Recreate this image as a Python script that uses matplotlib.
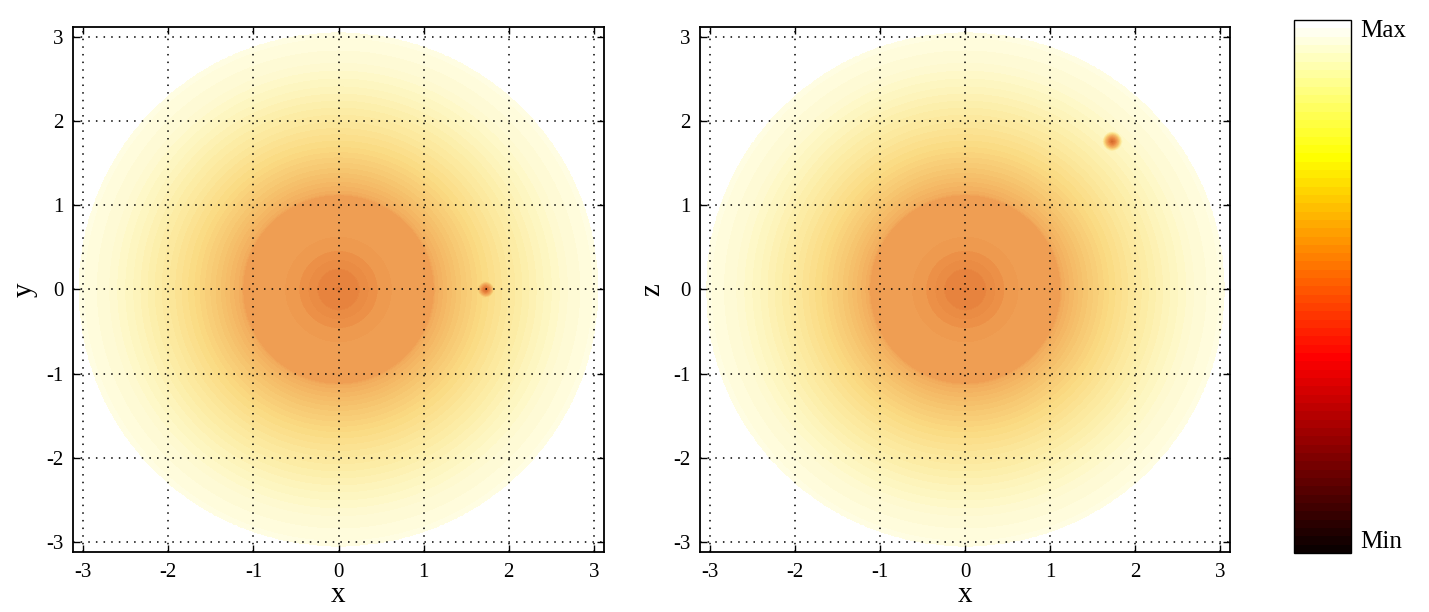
import numpy as np
import matplotlib.pyplot as plt
from matplotlib.colors import LinearSegmentedColormap
import matplotlib.cm as cm

plt.rcParams['font.family'] = ['Liberation Serif', 'DejaVu Serif']
plt.rcParams['axes.unicode_minus'] = False

# radial profile of the field (0 = darkest, 1 = brightest)
radios = [0.0, 0.25, 0.26, 0.46, 0.47, 1.12, 1.15, 1.4, 1.7, 2.0, 2.4, 2.7, 3.05]
nivel = [0.12, 0.15, 0.19, 0.21, 0.27, 0.29, 0.36, 0.48, 0.60, 0.70, 0.82, 0.90, 0.96]
radio_disco = 3.05

# small dark spot (distance from spot centre -> level)
dist_mancha = [0.0, 0.04, 0.08, 0.14]
nivel_mancha = [0.0, 0.12, 0.40, 1.0]
mancha_izq = (1.73, 0.0)
mancha_der = (1.73, 1.76)

ticks = [-3, -2, -1, 0, 1, 2, 3]
lim = 3.12

# colours of the washed disk
colores = [(205, 98, 38), (230, 128, 60), (236, 145, 72), (240, 165, 88),
           (245, 190, 105), (250, 218, 130), (252, 238, 168), (254, 249, 205),
           (255, 254, 235)]
posiciones = [0.0, 0.12, 0.22, 0.32, 0.45, 0.60, 0.75, 0.88, 1.0]
cmap_disco = LinearSegmentedColormap.from_list(
    'disco', list(zip(posiciones, [tuple(c / 255 for c in col) for col in colores])))

g = np.linspace(-lim, lim, 700)
X, Y = np.meshgrid(g, g)
R = np.hypot(X, Y)


def campo(mancha):
    v = np.interp(R, radios, nivel)
    d = np.hypot(X - mancha[0], Y - mancha[1])
    v = np.minimum(v, np.interp(d, dist_mancha, nivel_mancha))
    return np.where(R <= radio_disco, v, np.nan)


fig = plt.figure(figsize=(14.29, 6.12), dpi=100)
ax1 = fig.add_axes([0.0511, 0.098, 0.3716, 0.858])
ax2 = fig.add_axes([0.490, 0.098, 0.371, 0.858])
cax = fig.add_axes([0.9055, 0.0964, 0.0399, 0.871])

niveles = np.linspace(0, 1, 41)
for ax, mancha, ylab in [(ax1, mancha_izq, 'y'), (ax2, mancha_der, 'z')]:
    ax.contourf(X, Y, campo(mancha), levels=niveles, cmap=cmap_disco, vmin=0, vmax=1)
    ax.set_xlim(-lim, lim)
    ax.set_ylim(-lim, lim)
    ax.set_xticks(ticks)
    ax.set_yticks(ticks)
    ax.grid(True, color='black', linestyle=(0, (1, 4)), linewidth=1.1)
    ax.tick_params(direction='in', length=5, top=True, right=True, labelsize=15, width=1)
    ax.tick_params(axis='x', pad=8)
    ax.tick_params(axis='y', pad=7)
    for s in ax.spines.values():
        s.set_linewidth(1.3)
    ax.set_xlabel('x', fontsize=21, labelpad=0)
    ax.set_ylabel(ylab, fontsize=21, labelpad=6)

# colorbar with hot colormap
cb = fig.colorbar(cm.ScalarMappable(cmap=plt.get_cmap('hot', 64)), cax=cax)
cb.set_ticks([])
cb.outline.set_linewidth(1)
fig.text(0.952, 0.968, 'Max', fontsize=18, va='top', ha='left')
fig.text(0.952, 0.097, 'Min', fontsize=18, va='bottom', ha='left')

plt.savefig('out.png', dpi=100)
